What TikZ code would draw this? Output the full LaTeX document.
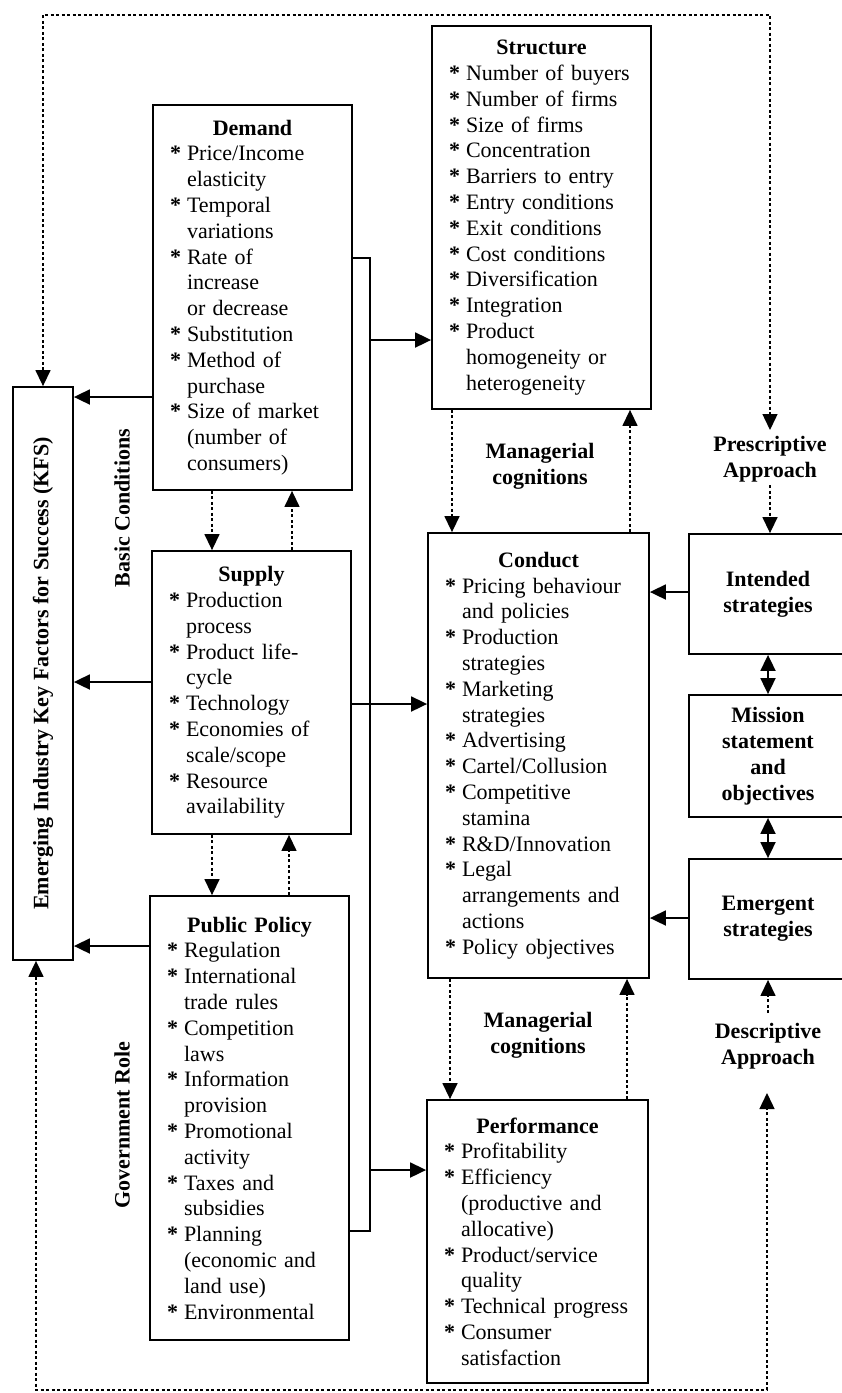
\documentclass[tikz,border=0pt]{standalone}
\usepackage{fontspec}
\setmainfont{Liberation Serif}
\usepackage{graphicx}
\usetikzlibrary{arrows.meta}

\newcommand\btitle[1]{\leavevmode\hbox to\hsize{\hss\bfseries #1\hss}\par}
\newcommand\bi[1]{\leavevmode\hbox to 17pt{\textbf{*}\hss}\mbox{#1}\par}
\newcommand\ci[1]{\leavevmode\hbox to 17pt{\hss}\mbox{#1}\par}

\begin{document}
\begin{tikzpicture}[x=1pt,y=-1pt,
  boxnode/.style={draw, line width=1.8pt, inner xsep=17pt, inner ysep=0pt,
    font=\fontsize{22}{25.8}\selectfont,
    execute at begin node={\parindent=0pt\parskip=0pt\relax}},
  sidebox/.style={draw, line width=1.8pt, minimum width=158pt, align=center,
    font=\bfseries\fontsize{22}{25.8}\selectfont},
  lbl/.style={align=center, inner sep=0pt, font=\bfseries\fontsize{22}{25.8}\selectfont},
  sline/.style={line width=1.8pt},
  sarrow/.style={line width=1.8pt, -{Triangle[length=16pt,width=15pt]}},
  dblarrow/.style={line width=1.8pt, {Triangle[length=16pt,width=15pt]}-{Triangle[length=16pt,width=15pt]}},
  dline/.style={line width=1.4pt, dash pattern=on 3pt off 2.5pt},
  darrow/.style={dline, -{Triangle[length=16pt,width=15pt]}},
  ddarrow/.style={dline, {Triangle[length=16pt,width=15pt]}-{Triangle[length=16pt,width=15pt]}},
]
\useasboundingbox (0,0) rectangle (842,1393);

% ---------- boxes ----------
\node[boxnode, text width=185pt, minimum height=383pt] (structure) at (541.5,217.5) {%
\btitle{Structure}\bi{Number of buyers}\bi{Number of firms}\bi{Size of firms}\bi{Concentration}%
\bi{Barriers to entry}\bi{Entry conditions}\bi{Exit conditions}\bi{Cost conditions}%
\bi{Diversification}\bi{Integration}\bi{Product}\ci{homogeneity or}\ci{heterogeneity}};

\node[boxnode, text width=165pt, minimum height=385pt] (demand) at (252.5,297.5) {%
\btitle{Demand}\bi{Price/Income}\ci{elasticity}\bi{Temporal}\ci{variations}\bi{Rate of}%
\ci{increase}\ci{or decrease}\bi{Substitution}\bi{Method of}\ci{purchase}\bi{Size of market}%
\ci{(number of}\ci{consumers)}};

\node[boxnode, text width=165pt, minimum height=283pt] (supply) at (251.5,692.5) {%
\btitle{Supply}\bi{Production}\ci{process}\bi{Product life-}\ci{cycle}\bi{Technology}%
\bi{Economies of}\ci{scale/scope}\bi{Resource}\ci{availability}};

\node[boxnode, text width=165pt, minimum height=444pt] (pp) at (249.5,1118) {%
\btitle{Public Policy}\bi{Regulation}\bi{International}\ci{trade rules}\bi{Competition}%
\ci{laws}\bi{Information}\ci{provision}\bi{Promotional}\ci{activity}\bi{Taxes and}%
\ci{subsidies}\bi{Planning}\ci{(economic and}\ci{land use)}\bi{Environmental}};

\node[boxnode, text width=187pt, minimum height=445pt] (conduct) at (538.5,755.5) {%
\btitle{Conduct}\bi{Pricing behaviour}\ci{and policies}\bi{Production}\ci{strategies}%
\bi{Marketing}\ci{strategies}\bi{Advertising}\bi{Cartel/Collusion}\bi{Competitive}%
\ci{stamina}\bi{R\&D/Innovation}\bi{Legal}\ci{arrangements and}\ci{actions}%
\bi{Policy objectives}};

\node[boxnode, text width=187pt, minimum height=283pt] (perf) at (537.5,1241.5) {%
\btitle{Performance}\bi{Profitability}\bi{Efficiency}\ci{(productive and}\ci{allocative)}%
\bi{Product/service}\ci{quality}\bi{Technical progress}\bi{Consumer}\ci{satisfaction}};

\node[draw, line width=1.8pt, minimum width=60pt, minimum height=573pt, inner sep=0pt] (kfs) at (43,673.5)
  {\rotatebox{90}{\bfseries\fontsize{22}{25.8}\selectfont Emerging Industry Key Factors for Success (KFS)}};

\node[sidebox, minimum height=120pt] (intended) at (768,594) {Intended\\strategies};
\node[sidebox, minimum height=122pt] (mission) at (768,756) {Mission\\statement\\and\\objectives};
\node[sidebox, minimum height=120pt] (emergent) at (768,919) {Emergent\\strategies};

% ---------- labels ----------
\node[lbl] (mc1) at (540,466.5) {Managerial\\cognitions};
\node[lbl] (mc2) at (538,1035) {Managerial\\cognitions};
\node[lbl] (presc) at (770,459.5) {Prescriptive\\Approach};
\node[lbl] (descr) at (768,1046.5) {Descriptive\\Approach};
\node[lbl, rotate=90] (basic) at (122,508) {Basic Conditions};
\node[lbl, rotate=90] (govt) at (122,1125) {Government Role};

% ---------- solid connectors ----------
\coordinate (bustop) at (370,258);
\coordinate (busbot) at (370,1231);
\draw[sline] (demand.east |- bustop) -- (bustop) -- (busbot) -- (pp.east |- busbot);
\draw[sarrow] (bustop |- 0,340) -- (structure.west |- 0,340);
\draw[sarrow] (busbot |- 0,1170) -- (perf.west |- 0,1170);
\draw[sarrow] (supply.east |- 0,704) -- (conduct.west |- 0,704);
\draw[sarrow] (demand.west |- 0,397) -- (kfs.east |- 0,397);
\draw[sarrow] (supply.west |- 0,682) -- (kfs.east |- 0,682);
\draw[sarrow] (pp.west |- 0,946) -- (kfs.east |- 0,946);
\draw[sarrow] (intended.west |- 0,592) -- (conduct.east |- 0,592);
\draw[sarrow] (emergent.west |- 0,918) -- (conduct.east |- 0,918);
\draw[dblarrow] (intended.south) -- (mission.north);
\draw[dblarrow] (mission.south) -- (emergent.north);

% ---------- dotted connectors ----------
\draw[darrow] (demand.south -| 212,0) -- (supply.north -| 212,0);
\draw[darrow] (supply.north -| 292,0) -- (demand.south -| 292,0);
\draw[darrow] (supply.south -| 212,0) -- (pp.north -| 212,0);
\draw[darrow] (pp.north -| 289,0) -- (supply.south -| 289,0);
\draw[darrow] (structure.south -| 452,0) -- (conduct.north -| 452,0);
\draw[darrow] (conduct.north -| 630,0) -- (structure.south -| 630,0);
\draw[darrow] (conduct.south -| 450,0) -- (perf.north -| 450,0);
\draw[darrow] (perf.north -| 627,0) -- (conduct.south -| 627,0);

\coordinate (tl) at (43,15);
\coordinate (tr) at (770,15);
\coordinate (ptip) at (770,430);
\coordinate (pbot) at (770,485);
\draw[ddarrow] (kfs.north) -- (tl) -- (tr) -- (ptip);
\draw[darrow] (pbot) -- (intended.north -| pbot);

\coordinate (bl) at (36,1390);
\coordinate (br) at (767,1390);
\coordinate (dtip) at (767,1093);
\coordinate (dtop) at (768,1013);
\draw[ddarrow] (kfs.south -| bl) -- (bl) -- (br) -- (dtip);
\draw[darrow] (dtop) -- (emergent.south -| dtop);
\end{tikzpicture}
\end{document}
